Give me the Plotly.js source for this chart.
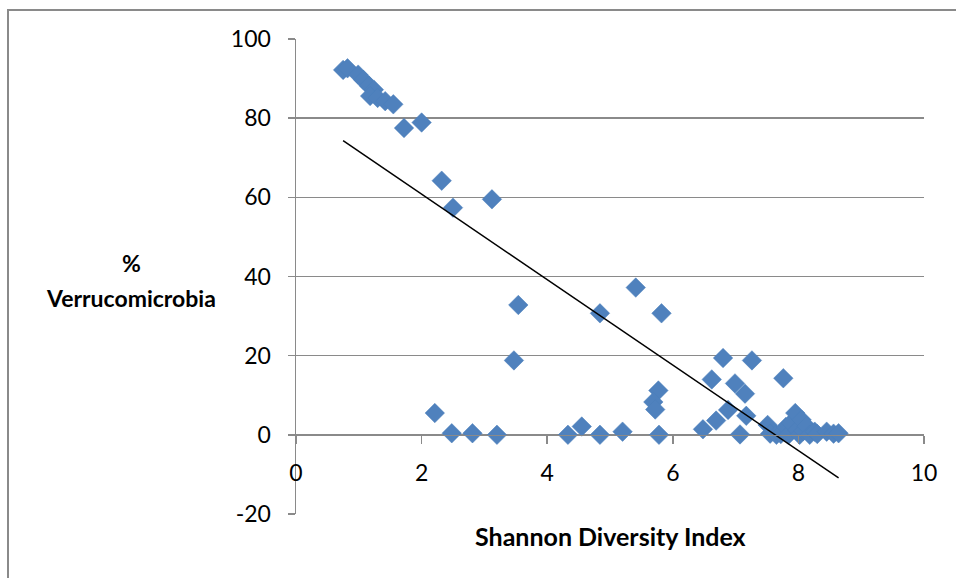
<!DOCTYPE html>
<html>
<head>
<meta charset="utf-8">
<script src="https://cdn.plot.ly/plotly-3.0.1.min.js"></script>
<style>
  html, body { margin: 0; padding: 0; background: #ffffff; }
  #wrap { position: relative; width: 956px; height: 578px; overflow: hidden; }
  #frame { position: absolute; left: 7px; top: 9px; width: 1200px; height: 1200px;
           border: 2px solid #8a8a8a; box-sizing: border-box; }
  #chart { position: absolute; left: 0; top: 0; width: 956px; height: 578px; }
</style>
</head>
<body>
<div id="wrap">
  <div id="frame"></div>
  <div id="chart"></div>
</div>
<script>
// Shannon diversity index of each sample
const shannon = [
  0.75, 0.82, 0.99, 1.07, 1.16, 1.24, 1.18, 1.30, 1.42, 1.55,
  1.72, 2.00, 2.32, 2.50, 3.12, 3.54, 3.47,
  2.21, 2.48, 2.81, 3.20, 4.33, 4.55, 4.84, 5.20,
  4.84, 5.41, 5.82,
  5.77, 5.69, 5.72, 5.78,
  6.48, 6.62, 6.69, 6.80, 6.88, 6.99, 7.07, 7.15, 7.17, 7.26,
  7.51, 7.55, 7.65, 7.76, 7.72, 7.80, 7.84, 7.88, 7.95, 7.98,
  8.02, 8.05, 8.08, 8.13, 8.18, 8.26, 8.30, 8.45, 8.56, 8.64
];

// Relative abundance of Verrucomicrobia (%) for the same samples
const verruco = [
  92.2, 92.6, 91.0, 89.7, 88.2, 87.2, 85.6, 85.1, 84.3, 83.5,
  77.5, 78.9, 64.2, 57.4, 59.5, 32.8, 18.8,
  5.5, 0.4, 0.4, 0.0, 0.0, 2.1, 0.0, 0.8,
  30.7, 37.2, 30.7,
  11.2, 8.3, 6.4, 0.0,
  1.4, 14.0, 3.6, 19.4, 6.3, 13.0, 0.1, 10.4, 4.8, 18.8,
  2.5, 0.3, 0.0, 14.3, 0.2, 2.0, 0.0, 3.0, 5.5, 1.2,
  0.0, 3.8, 1.0, 2.2, 0.0, 0.8, 0.2, 0.8, 0.3, 0.4
];

// Linear trendline end points
const trendX = [0.75, 8.64];
const trendY = [74.3, -10.9];

const xTicks = [0, 2, 4, 6, 8, 10];
const yTicks = [-20, 0, 20, 40, 60, 80, 100];

const FONT = 'Lato, "Open Sans", sans-serif';
const GRAY = '#8a8a8a';

const traces = [
  {
    x: shannon, y: verruco, type: 'scatter', mode: 'markers',
    marker: { symbol: 'diamond', size: 15, color: '#4F81BD',
              line: { color: '#4A7EBB', width: 0.5 } },
    hoverinfo: 'x+y'
  },
  {
    x: trendX, y: trendY, type: 'scatter', mode: 'lines',
    line: { color: '#000000', width: 1.5 }, hoverinfo: 'skip'
  }
];

const layout = {
  width: 956, height: 578,
  margin: { l: 296, r: 32, t: 39, b: 64 },
  paper_bgcolor: 'rgba(0,0,0,0)', plot_bgcolor: 'rgba(0,0,0,0)',
  showlegend: false,
  font: { family: FONT, color: '#000000', size: 23 },
  xaxis: {
    range: [0, 10], tickvals: xTicks, ticktext: xTicks.map(String),
    showgrid: false, zeroline: false,
    showline: true, linecolor: GRAY, linewidth: 1.5,
    ticks: 'outside', ticklen: 8, tickcolor: GRAY, tickwidth: 1.5,
    anchor: 'free', position: 20 / 120,
    ticklabelstandoff: 9,
    tickfont: { family: FONT, size: 23, color: '#000000' }
  },
  yaxis: {
    range: [-20, 100], tickvals: yTicks, ticktext: yTicks.map(String),
    showgrid: true, gridcolor: GRAY, gridwidth: 1.5, zeroline: false,
    showline: true, linecolor: GRAY, linewidth: 1.5,
    ticks: 'outside', ticklen: 7, tickcolor: GRAY, tickwidth: 1.5,
    ticklabelstandoff: 12,
    tickfont: { family: FONT, size: 23, color: '#000000' }
  },
  annotations: [
    { text: '<b>Shannon Diversity Index</b>', xref: 'paper', yref: 'paper',
      x: 0.5, y: -0.046, xanchor: 'center', yanchor: 'middle', showarrow: false,
      font: { family: FONT, size: 25, color: '#000000' } },
    { text: '<b>%</b>', xref: 'paper', yref: 'paper',
      x: -0.2627, y: (514 - 263) / 475, xanchor: 'center', yanchor: 'middle', showarrow: false,
      font: { family: FONT, size: 23, color: '#000000' } },
    { text: '<b>Verrucomicrobia</b>', xref: 'paper', yref: 'paper',
      x: -0.2627, y: (514 - 298) / 475, xanchor: 'center', yanchor: 'middle', showarrow: false,
      font: { family: FONT, size: 23, color: '#000000' } }
  ]
};

Plotly.newPlot('chart', traces, layout, { displayModeBar: false, staticPlot: true });
</script>
</body>
</html>
